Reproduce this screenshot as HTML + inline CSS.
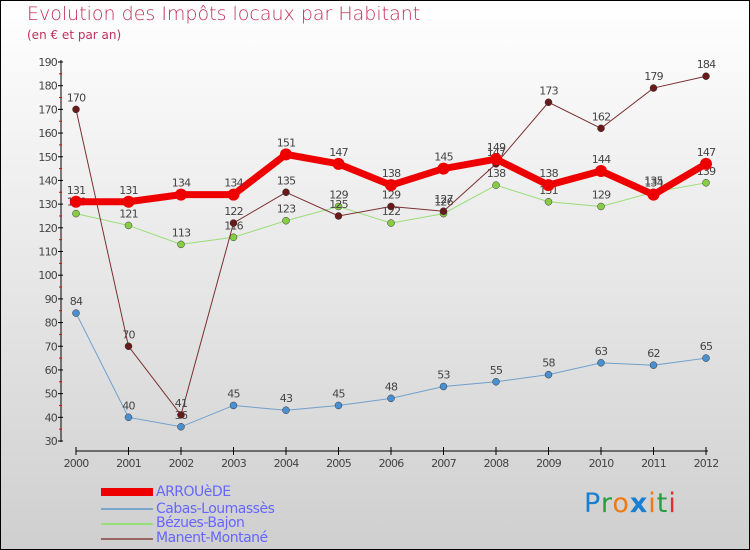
<!DOCTYPE html>
<html><head><meta charset="utf-8"><style>
body{margin:0}
#c{position:relative;width:748px;height:548px;border:1px solid #000;background:linear-gradient(#fff,#cfcfcf);overflow:hidden;font-family:"DejaVu Sans","Liberation Sans",sans-serif}
.t{position:absolute;left:26px;top:2px;font-size:19px;color:#c0305a;font-weight:300}
.s{position:absolute;left:26px;top:27px;font-size:12px;color:#c0305a}
.leg{position:absolute;left:155px;font-size:14px;color:#6666ff;letter-spacing:-0.5px}
.sw{position:absolute;left:100px;width:52px}
</style></head><body>
<div id="c">
<div class="t">Evolution des Impôts locaux par Habitant</div>
<div class="s">(en € et par an)</div>
<svg id="g" width="748" height="548" style="position:absolute;left:0;top:0"></svg>
<div class="sw" style="top:487px;height:8px;background:#e00"></div>
<div class="leg" style="top:483px">ARROUèDE</div>
<div class="sw" style="top:507px;height:2px;background:#7aa6cc"></div>
<div class="leg" style="top:500px">Cabas-Loumassès</div>
<div class="sw" style="top:522px;height:2px;background:#99dd77"></div>
<div class="leg" style="top:514px">Bézues-Bajon</div>
<div class="sw" style="top:537px;height:2px;background:#996666"></div>
<div class="leg" style="top:529px">Manent-Montané</div>
<div style="position:absolute;left:583px;top:487px;font-size:27px;font-family:'DejaVu Sans',sans-serif;letter-spacing:1px"><span style="color:#1a7fd0">P</span><span style="color:#2a9d40">r</span><span style="color:#f07a10">o</span><span style="color:#1a7fd0;font-weight:bold">x</span><span style="color:#f07a10">i</span><span style="color:#2a9d40">t</span><span style="color:#e03030">i</span></div>
</div>
<script>
const years=["2000","2001","2002","2003","2004","2005","2006","2007","2008","2009","2010","2011","2012"];
const yTicks=[30,40,50,60,70,80,90,100,110,120,130,140,150,160,170,180,190];
const arrouede=[131,131,134,134,151,147,138,145,149,138,144,134,147];
const cabas=[84,40,36,45,43,45,48,53,55,58,63,62,65];
const bezues=[126,121,113,116,123,129,122,126,138,131,129,135,139];
const manent=[170,70,41,122,135,125,129,127,147,173,162,179,184];
const svg=document.getElementById('g');const NS='http://www.w3.org/2000/svg';
const X=i=>75+i*(705-75)/(years.length-1);
const Y=v=>440-(v-30)*(440-61)/160;
function mk(t,a,p){const e=document.createElementNS(NS,t);for(const k in a)e.setAttribute(k,a[k]);(p||svg).appendChild(e);return e;}
const ax=mk('line',{x1:60,y1:59,x2:60,y2:441,stroke:'#000'});


const bx=mk('line',{x1:75,y1:450,x2:707,y2:450,stroke:'#000'});


yTicks.forEach(v=>{mk('line',{x1:57,x2:62,y1:Y(v),y2:Y(v),stroke:'#000'});
if(v<190)mk('line',{x1:58,x2:61,y1:Y(v+5),y2:Y(v+5),stroke:'#e00'});
const t=mk('text',{x:56,y:Y(v)+4,'text-anchor':'end','font-size':11,fill:'#444','letter-spacing':'-0.8'});t.textContent=v;

});
years.forEach((y,i)=>{mk('line',{x1:X(i),x2:X(i),y1:446,y2:454,stroke:'#000'});
const t=mk('text',{x:X(i),y:466,'text-anchor':'middle','font-size':11,fill:'#444','letter-spacing':'-0.8'});t.textContent=y;

});
function series(d,col,dot,w,r,name){const g=mk('g',{});


mk('polyline',{points:d.map((v,i)=>X(i)+','+Y(v)).join(' '),fill:'none',stroke:col,'stroke-width':w},g);
d.forEach((v,i)=>{const c=mk('circle',{cx:X(i),cy:Y(v),r:r,fill:dot,stroke:'#333','stroke-width':w>3?0:0.5},g);


const t=mk('text',{x:X(i),y:Y(v)-8,'text-anchor':'middle','font-size':11,fill:'#444','letter-spacing':'-0.8'},g);t.textContent=v;

});}
series(cabas,'#6fa0cc','#4a90d0',1,3.5,'series-cabas');
series(bezues,'#99dd77','#88cc44',1,3.5,'series-bezues');
series(manent,'#7a3030','#6a1a1a',1,3.5,'series-manent');
series(arrouede,'#ee0000','#ee0000',7,6,'series-arrouede');
</script>
</body></html>
